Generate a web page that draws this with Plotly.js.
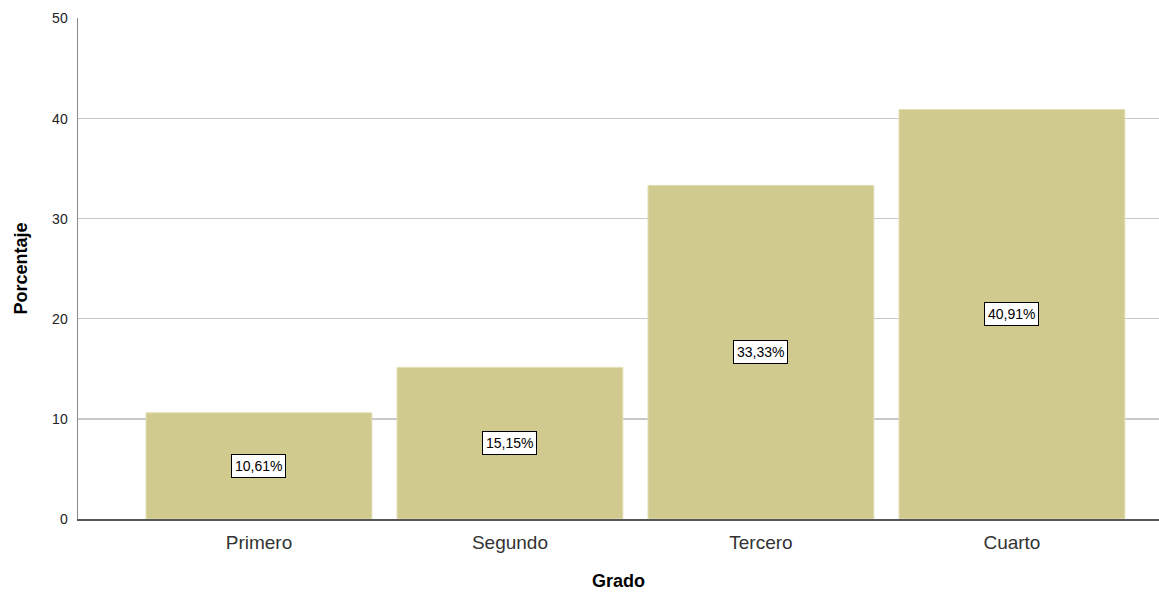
<!DOCTYPE html>
<html>
<head>
<meta charset="utf-8">
<script src="https://cdn.plot.ly/plotly-3.0.1.min.js"></script>
<style>html,body{margin:0;padding:0;background:#fff;}#chart{width:1159px;height:593px;}</style>
</head>
<body>
<div id="chart"></div>
<script>
const categories = ["Primero", "Segundo", "Tercero", "Cuarto"];
const values = [10.61, 15.15, 33.33, 40.91];
const labels = ["10,61%", "15,15%", "33,33%", "40,91%"];
const yTicks = [0, 10, 20, 30, 40, 50];

const trace = {
  type: "bar",
  x: categories,
  y: values,
  width: 0.9,
  marker: {color: "#d0ca8e", line: {color: "#e3dfb8", width: 1}},
  hoverinfo: "skip"
};

const annotations = categories.map((c, i) => ({
  x: c, y: values[i] / 2, xref: "x", yref: "y",
  text: labels[i], showarrow: false,
  bgcolor: "#ffffff", bordercolor: "#000000", borderwidth: 1, borderpad: 3,
  font: {family: "Liberation Sans, Arial, sans-serif", size: 14, color: "#000"}
}));

const layout = {
  width: 1159, height: 593,
  margin: {l: 78, r: 0, t: 18, b: 74},
  paper_bgcolor: "#fff", plot_bgcolor: "#fff",
  showlegend: false,
  bargap: 0.1,
  xaxis: {
    type: "category",
    range: [-0.721, 3.586],
    showline: true, linecolor: "#555", linewidth: 1.5,
    ticks: "outside", ticklen: 6, tickcolor: "#fff", showgrid: false,
    tickfont: {family: "Liberation Sans, Arial, sans-serif", size: 19, color: "#333"},
    title: {text: "<b>Grado</b>", font: {family: "Liberation Sans, Arial, sans-serif", size: 18, color: "#000"}, standoff: 22},
    fixedrange: true
  },
  yaxis: {
    range: [0, 50.05],
    tickvals: yTicks,
    showline: true, linecolor: "#888", linewidth: 1.5,
    showgrid: true, gridcolor: "#c8c8c8", gridwidth: 1.2,
    zeroline: false,
    ticks: "outside", ticklen: 6, tickcolor: "#fff",
    tickfont: {family: "Liberation Sans, Arial, sans-serif", size: 14, color: "#222"},
    title: {text: "<b>Porcentaje</b>", font: {family: "Liberation Sans, Arial, sans-serif", size: 18, color: "#000"}, standoff: 20},
    fixedrange: true
  },
  annotations: annotations
};

Plotly.newPlot("chart", [trace], layout, {displayModeBar: false, staticPlot: true});
</script>
</body>
</html>
